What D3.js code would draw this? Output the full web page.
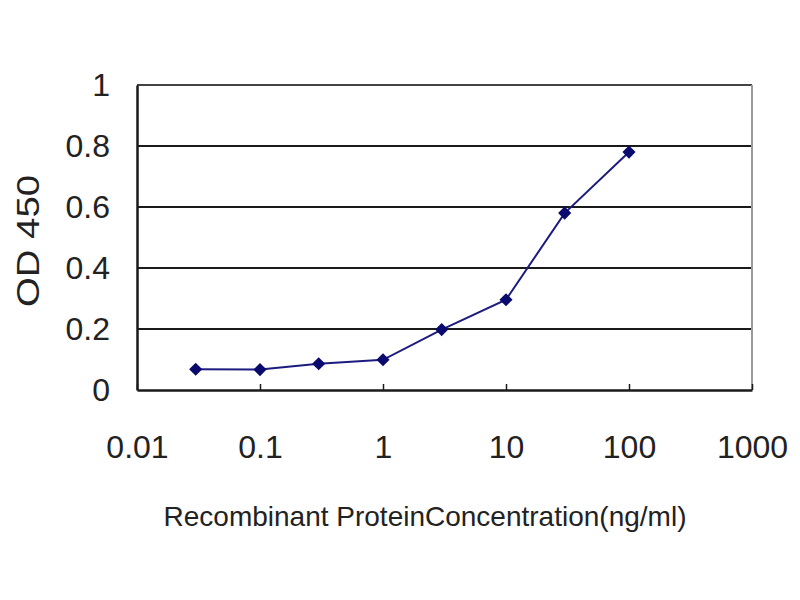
<!DOCTYPE html>
<html><head><meta charset="utf-8">
<script src="https://cdn.jsdelivr.net/npm/d3@7"></script>
<style>body{margin:0;background:#fff}svg{display:block}</style>
</head><body>
<svg id="c" width="800" height="600"></svg>
<script>
const concentrations = [0.03, 0.1, 0.3, 1, 3, 10, 30, 100];
const odValues = [0.068, 0.067, 0.086, 0.099, 0.198, 0.296, 0.58, 0.78];
const xTicks = [0.01, 0.1, 1, 10, 100, 1000];
const xTickLabels = ["0.01", "0.1", "1", "10", "100", "1000"];
const yTicks = [0, 0.2, 0.4, 0.6, 0.8, 1];
const yTickLabels = ["0", "0.2", "0.4", "0.6", "0.8", "1"];

const svg = d3.select("#c");
const L = 137, R = 752, T = 85, B = 390;
const x = d3.scaleLog().domain([0.01, 1000]).range([L, R]);
const y = d3.scaleLinear().domain([0, 1]).range([B, T]);
const font = "'Liberation Sans', Arial, sans-serif";

// gridlines
svg.append("g").selectAll("line").data(yTicks.filter(d => d > 0 && d < 1)).join("line")
  .attr("x1", L).attr("x2", R).attr("y1", d => y(d)).attr("y2", d => y(d))
  .attr("stroke", "#1a1a1a").attr("stroke-width", 2);
// frame top and right
svg.append("line").attr("x1", L).attr("x2", R).attr("y1", T).attr("y2", T).attr("stroke", "#444").attr("stroke-width", 2);
svg.append("line").attr("x1", R).attr("x2", R).attr("y1", T).attr("y2", B).attr("stroke", "#999").attr("stroke-width", 2);

// x axis
const xAxis = d3.axisBottom(x).tickValues(xTicks).tickFormat((d, i) => xTickLabels[i]).tickSizeInner(-6).tickSizeOuter(0).tickPadding(45);
const gx = svg.append("g").attr("transform", `translate(0,${B})`).call(xAxis);
gx.select(".domain").attr("stroke", "#1a1a1a").attr("stroke-width", 2.5);
gx.selectAll(".tick line").attr("stroke", "#1a1a1a").attr("stroke-width", 1.5);
gx.selectAll("text").attr("font-family", font).attr("font-size", 32).attr("fill", "#222");

// y axis
const yAxis = d3.axisLeft(y).tickValues(yTicks).tickFormat((d, i) => yTickLabels[i]).tickSize(0).tickPadding(27);
const gy = svg.append("g").attr("transform", `translate(${L},0)`).call(yAxis);
gy.select(".domain").attr("stroke", "#1a1a1a").attr("stroke-width", 2.5);
gy.selectAll("text").attr("font-family", font).attr("font-size", 32).attr("fill", "#222");

// line
const data = concentrations.map((c, i) => ({c, v: odValues[i]}));
svg.append("path").datum(data)
  .attr("d", d3.line().x(d => x(d.c)).y(d => y(d.v)))
  .attr("fill", "none").attr("stroke", "#1c1c80").attr("stroke-width", 2);
svg.append("g").selectAll("path").data(data).join("path")
  .attr("d", d3.symbol().type(d3.symbolDiamond2).size(110))
  .attr("transform", d => `translate(${x(d.c)},${y(d.v)})`)
  .attr("fill", "#0a0a6e");

// titles
svg.append("text").attr("x", 425).attr("y", 526).attr("text-anchor", "middle")
  .attr("font-family", font).attr("font-size", 28).attr("fill", "#222")
  .text("Recombinant ProteinConcentration(ng/ml)");
svg.append("text").attr("transform", "translate(39,241) rotate(-90)").attr("text-anchor", "middle")
  .attr("font-family", font).attr("font-size", 32).attr("fill", "#222")
  .attr("textLength", 132).attr("lengthAdjust", "spacingAndGlyphs")
  .text("OD 450");
</script>
</body></html>
